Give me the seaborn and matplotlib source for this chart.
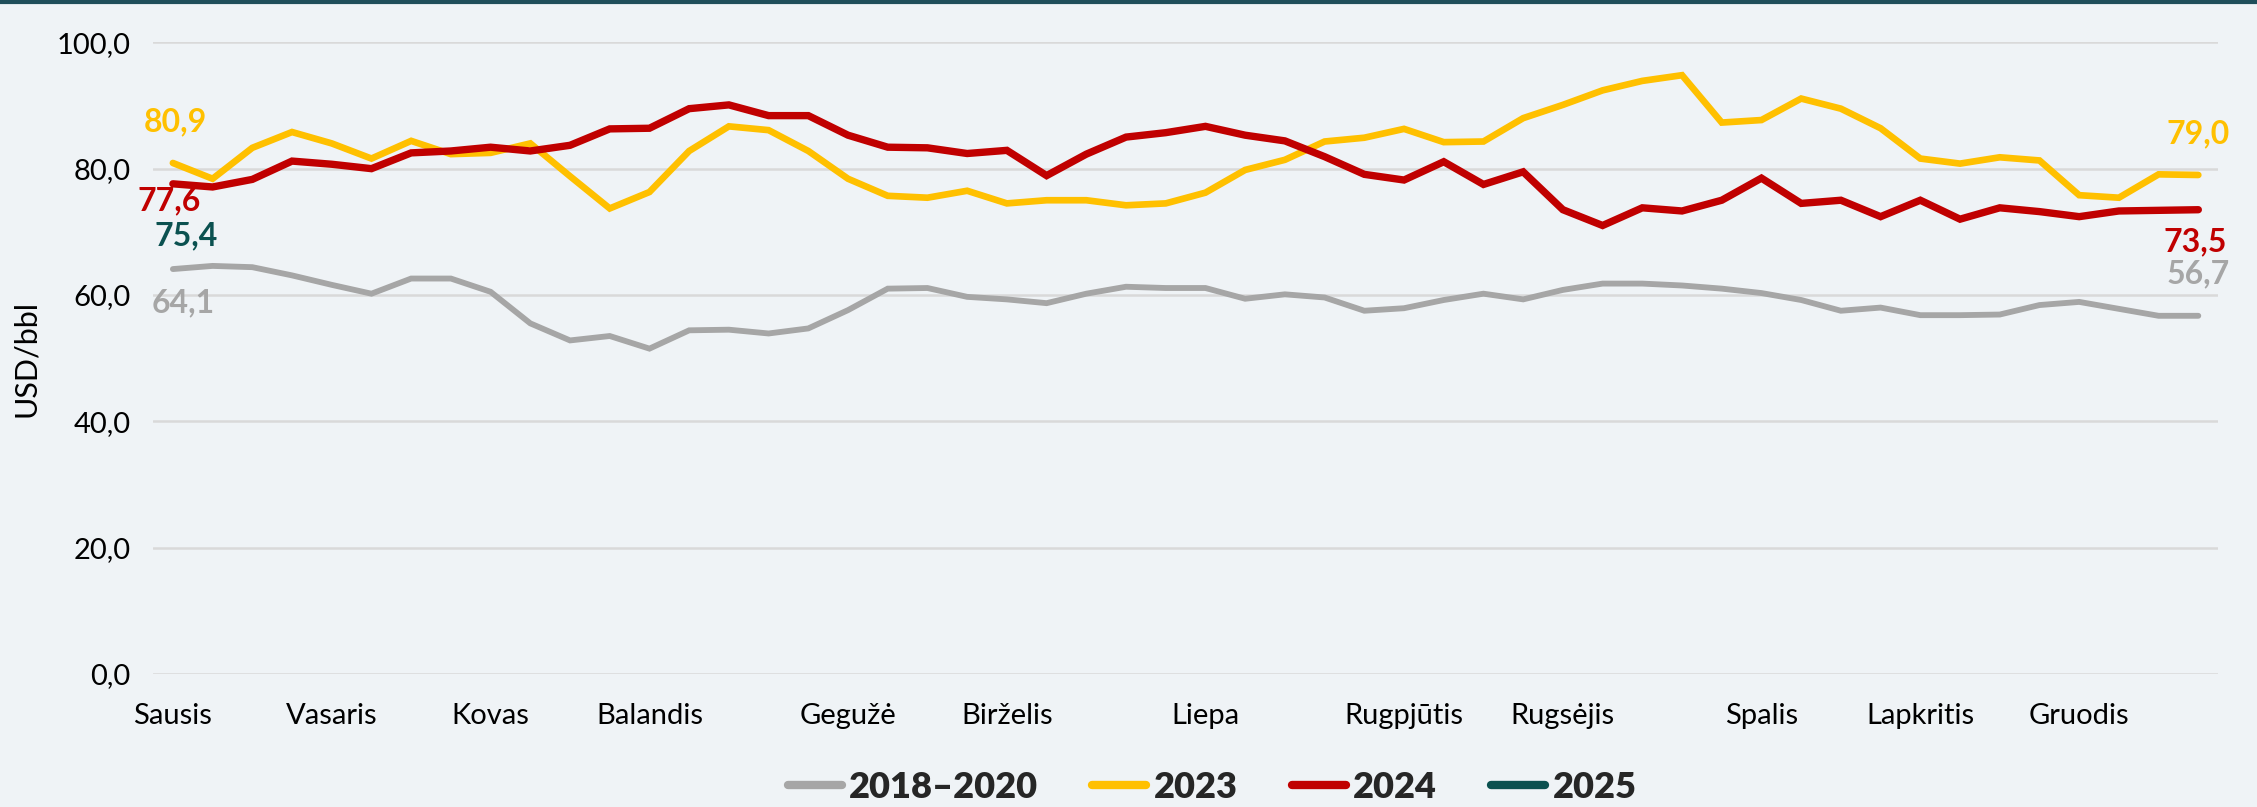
import numpy as np
import pandas as pd
import matplotlib
matplotlib.use("Agg")
import matplotlib.pyplot as plt
from matplotlib.lines import Line2D
import seaborn as sns

# ---- data ----
months = ["Sausis", "Vasaris", "Kovas", "Balandis", "Gegužė", "Birželis",
          "Liepa", "Rugpjūtis", "Rugsėjis", "Spalis", "Lapkritis", "Gruodis"]
month_weeks = [0, 4, 8, 12, 17, 21, 26, 31, 35, 40, 44, 48]

s_2018_2020 = [64.1, 64.6, 64.4, 63.1, 61.6, 60.2, 62.6, 62.6, 60.5, 55.5,
               52.8, 53.5, 51.5, 54.4, 54.5, 53.9, 54.7, 57.6, 61.0, 61.1,
               59.7, 59.3, 58.7, 60.2, 61.3, 61.1, 61.1, 59.4, 60.1, 59.6,
               57.5, 57.9, 59.2, 60.2, 59.3, 60.8, 61.8, 61.8, 61.5, 61.0,
               60.3, 59.2, 57.5, 58.0, 56.8, 56.8, 56.9, 58.4, 58.9, 57.8,
               56.7, 56.7]
s_2023 = [80.9, 78.4, 83.3, 85.8, 84.0, 81.6, 84.4, 82.3, 82.5, 84.0,
          78.8, 73.7, 76.3, 82.8, 86.7, 86.1, 82.8, 78.4, 75.7, 75.4,
          76.5, 74.5, 75.0, 75.0, 74.2, 74.5, 76.2, 79.8, 81.4, 84.3,
          84.9, 86.3, 84.2, 84.3, 88.0, 90.1, 92.4, 93.9, 94.8, 87.3,
          87.7, 91.1, 89.5, 86.4, 81.6, 80.8, 81.8, 81.3, 75.8, 75.4,
          79.1, 79.0]
s_2024 = [77.6, 77.1, 78.3, 81.2, 80.7, 80.0, 82.5, 82.8, 83.4, 82.8,
          83.7, 86.3, 86.4, 89.5, 90.1, 88.4, 88.4, 85.3, 83.4, 83.3,
          82.4, 82.9, 78.9, 82.3, 85.0, 85.7, 86.7, 85.3, 84.4, 81.9,
          79.1, 78.2, 81.1, 77.5, 79.5, 73.5, 71.0, 73.8, 73.3, 75.0,
          78.5, 74.5, 75.0, 72.4, 75.0, 72.0, 73.8, 73.2, 72.4, 73.3,
          73.4, 73.5]
s_2025 = [75.4]

series_names = ["2018–2020", "2023", "2024", "2025"]
series_values = [s_2018_2020, s_2023, s_2024, s_2025]
colors = {"2018–2020": "#A6A6A6", "2023": "#FFC000", "2024": "#C00000", "2025": "#0B5150"}
widths = {"2018–2020": 4.2, "2023": 4.8, "2024": 5.3, "2025": 4.8}

rows = []
for name, vals in zip(series_names, series_values):
    for i, v in enumerate(vals):
        rows.append({"week": i, "value": v, "series": name})
df = pd.DataFrame(rows)

# ---- style ----
BG = "#EFF3F6"
sns.set_theme(style="white")
plt.rcParams["font.family"] = ["Lato", "DejaVu Sans"]

fig = plt.figure(figsize=(22.57, 8.07), dpi=100, facecolor=BG)
ax = fig.add_axes([0.0678, 0.165, 0.915, 0.7825])
ax.set_facecolor(BG)

handles = []
for name in series_names:
    sub = df[df["series"] == name]
    sns.lineplot(data=sub, x="week", y="value", ax=ax, color=colors[name],
                 linewidth=widths[name], solid_capstyle="round",
                 solid_joinstyle="miter", legend=False)
    handles.append(Line2D([0], [0], color=colors[name], linewidth=6,
                          solid_capstyle="round"))

ax.set_xlim(-0.5, 51.5)
ax.set_ylim(0, 100)
ax.set_yticks([0, 20, 40, 60, 80, 100])
ax.set_yticklabels([f"{v:.1f}".replace(".", ",") for v in [0, 20, 40, 60, 80, 100]],
                   fontsize=21, color="black")
ax.set_xticks(month_weeks)
ax.set_xticklabels(months, fontsize=21, color="black")
ax.tick_params(axis="both", length=0)
ax.tick_params(axis="y", pad=16)
ax.tick_params(axis="x", pad=21)
ax.grid(axis="y", color="#D9D9D9", linewidth=1.8)
ax.grid(axis="x", visible=False)
ax.set_axisbelow(True)
for sp in ax.spines.values():
    sp.set_visible(False)
ax.set_xlabel("")
ax.set_ylabel("USD/bbl", fontsize=22, color="black", labelpad=12)

def fmt(v):
    return f"{v:.1f}".replace(".", ",")

# start labels
start_offsets = {"2023": (2, 30), "2024": (-3, -12), "2025": (9.5, -27.5), "2018–2020": (7.5, -24)}
for name, vals in zip(series_names, series_values):
    dx, dy = start_offsets[name]
    ax.annotate(fmt(vals[0]), xy=(0, vals[0]), xytext=(dx, dy), textcoords="offset points",
                ha="center", va="center", fontsize=23, fontweight="bold", color=colors[name])

# end labels
end_offsets = {"2023": (0, 29.5), "2024": (-2, -23), "2018–2020": (0, 30)}
for name, vals in zip(series_names, series_values):
    if name in end_offsets and len(vals) == 52:
        dx, dy = end_offsets[name]
        ax.annotate(fmt(vals[-1]), xy=(len(vals) - 1, vals[-1]), xytext=(dx, dy),
                    textcoords="offset points", ha="center", va="center",
                    fontsize=23, fontweight="bold", color=colors[name])

fig.legend(handles, series_names, loc="center", bbox_to_anchor=(0.537, 0.024), ncol=4,
           frameon=False, prop={"size": 26, "weight": "heavy"}, handlelength=1.5,
           handletextpad=0.2, columnspacing=1.5)

# top border line
fig.add_artist(Line2D([0, 1], [0.998, 0.998], transform=fig.transFigure,
                      color="#1F4E5A", linewidth=3))

fig.savefig("out.png", dpi=100, facecolor=BG)
